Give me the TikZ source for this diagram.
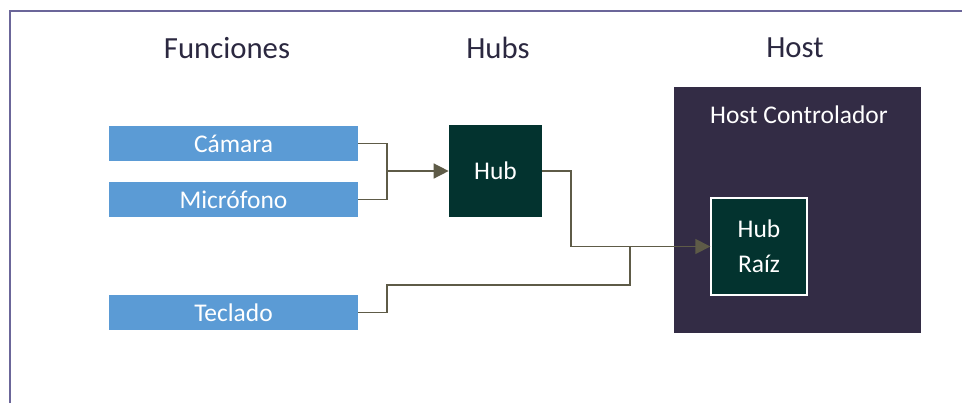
\documentclass[tikz,border=0pt]{standalone}
\usepackage{fontspec}
\setmainfont{Carlito}
\usetikzlibrary{arrows.meta}
\definecolor{funcblue}{HTML}{5B9BD5}
\definecolor{hubgreen}{HTML}{03332F}
\definecolor{hostpurple}{HTML}{332C45}
\definecolor{wireolive}{HTML}{5E5B47}
\definecolor{framepurple}{HTML}{6B6699}
\definecolor{titleink}{HTML}{2B2840}
\begin{document}
\begin{tikzpicture}[x=0.02cm, y=-0.02cm,
		funcbox/.style={rectangle, fill=funcblue, text=white, minimum width=4.98cm, minimum height=0.7cm, inner sep=0pt, font=\fontsize{14.5}{16}\selectfont},
		hubbox/.style={rectangle, fill=hubgreen, text=white, inner sep=0pt, align=center, font=\fontsize{14.5}{20}\selectfont},
		title/.style={text=titleink, font=\fontsize{17.5}{20}\selectfont},
		wire/.style={draw=wireolive, line width=0.85pt}]
		\useasboundingbox (0,0) rectangle (962,403);
		% \draw[help lines, step=50] (0,0) grid (962,403);
		\draw[framepurple, line width=0.85pt] (10,403) -- (10,11) -- (962,11);

		\node[title] (tfunc) at (227,48) {Funciones};
		\node[title] (thubs) at (498,48) {Hubs};
		\node[title] (thost) at (795,48) {Host};

		\node[funcbox] (camara) at (233.5,143.5) {Cámara};
		\node[funcbox] (microfono) at (233.5,199.5) {Micrófono};
		\node[funcbox] (teclado) at (233.5,312.5) {Teclado};

		\node[hubbox, minimum width=1.86cm, minimum height=1.84cm] (hub) at (495.5,171) {Hub};
		\node[rectangle, fill=hostpurple, minimum width=4.94cm, minimum height=4.92cm] (host) at (797.5,210) {};
		\node[text=white, font=\fontsize{14.5}{16}\selectfont] (hostlbl) at (799,115) {Host Controlador};
		\node[hubbox, draw=white, line width=0.8pt, minimum width=1.92cm, minimum height=1.94cm] (raiz) at (759,246.5) {Hub\\Raíz};

		\coordinate (j1) at (387,171);
		\coordinate (j2) at (571,246.5);
		\coordinate (t1) at (387,285);
		\coordinate (t2) at (630,246.5);
		\draw[wire] (camara.east) -| (j1);
		\draw[wire] (microfono.east) -| (j1);
		\draw[wire, -{Triangle[length=0.3cm, width=0.3cm]}] (j1) -- (hub.west);
		\draw[wire] (hub.east) -| (j2);
		\draw[wire, -{Triangle[length=0.3cm, width=0.3cm]}] (j2) -- (raiz.west);
		\draw[wire] (teclado.east) -| (t1) -| (t2);
	\end{tikzpicture}
\end{document}
